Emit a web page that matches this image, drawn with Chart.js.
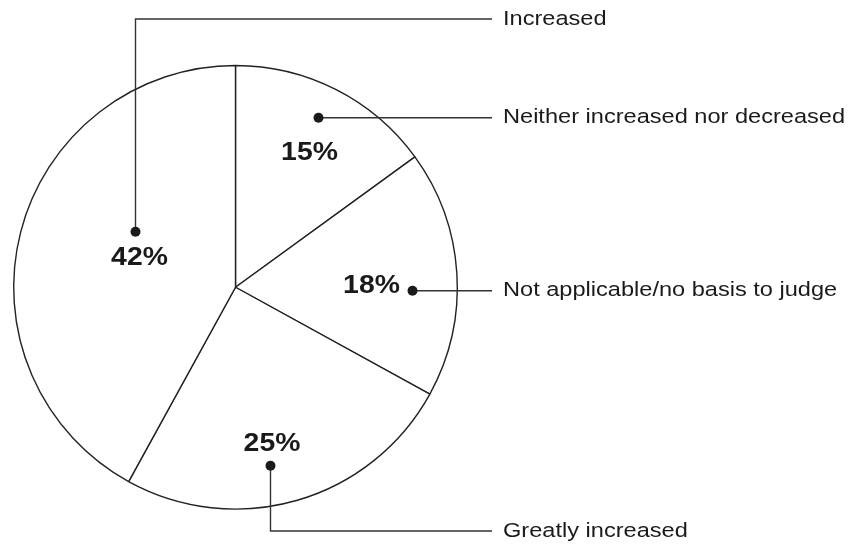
<!DOCTYPE html>
<html>
<head>
<meta charset="utf-8">
<script src="https://cdn.jsdelivr.net/npm/chart.js@4"></script>
<style>
html,body{margin:0;padding:0;background:#fff;}
#wrap{width:862px;height:546px;position:relative;}
</style>
</head>
<body>
<div id="wrap"><canvas id="c" width="862" height="546"></canvas></div>
<script>
const categories = ["Neither increased nor decreased", "Not applicable/no basis to judge", "Greatly increased", "Increased"];
const values = [15, 18, 25, 42];
const valueLabels = ["15%", "18%", "25%", "42%"];

// layout of annotations relative to pie center (px)
const annot = [
  {text:[74,-135], dot:[83,-169.5], route:"h", y:118},
  {text:[136,-2], dot:[177,3.5], route:"h", y:291},
  {text:[36.5,156], dot:[35,178.5], route:"down", y:531},
  {text:[-96,-30], dot:[-100,-55.5], route:"up", y:19}
];
const lineEndX = 492, labelX = 503;

function stretchedText(ctx, txt, x, y, sx, align){
  ctx.save();
  ctx.translate(x, y);
  ctx.scale(sx, 1);
  ctx.textAlign = align;
  ctx.fillText(txt, 0, 0);
  ctx.restore();
}

const annotPlugin = {
  id:'annot',
  afterDraw(chart){
    const ctx = chart.ctx;
    const arc = chart.getDatasetMeta(0).data[0];
    const cx = arc.x, cy = arc.y;
    ctx.save();
    annot.forEach((a,i)=>{
      const dx = cx + a.dot[0], dy = cy + a.dot[1];
      ctx.strokeStyle = '#333';
      ctx.lineWidth = 1.4;
      ctx.beginPath();
      ctx.moveTo(dx, dy);
      let ly = dy;
      if (a.route !== 'h') { ly = a.y; ctx.lineTo(dx, ly); }
      ctx.lineTo(lineEndX, ly);
      ctx.stroke();
      ctx.fillStyle = '#1a1a1a';
      ctx.beginPath();
      ctx.arc(dx, dy, 5, 0, Math.PI*2);
      ctx.fill();
      ctx.textBaseline = 'middle';
      ctx.font = 'bold 26.5px "Liberation Sans", Arial, sans-serif';
      stretchedText(ctx, valueLabels[i], cx + a.text[0], cy + a.text[1], 1.07, 'center');
      ctx.font = '20.5px "Liberation Sans", Arial, sans-serif';
      stretchedText(ctx, categories[i], labelX, ly, 1.15, 'left');
    });
    ctx.restore();
  }
};

new Chart(document.getElementById('c'), {
  type:'pie',
  data:{labels:categories, datasets:[{data:values, backgroundColor:'#fff', borderColor:'#222', borderWidth:1.4, hoverOffset:0}]},
  options:{
    responsive:false,
    animation:false,
    layout:{padding:{left:13, right:404, top:64.5, bottom:36}},
    plugins:{legend:{display:false}, tooltip:{enabled:false}},
    events:[]
  },
  plugins:[annotPlugin]
});
</script>
</body>
</html>
